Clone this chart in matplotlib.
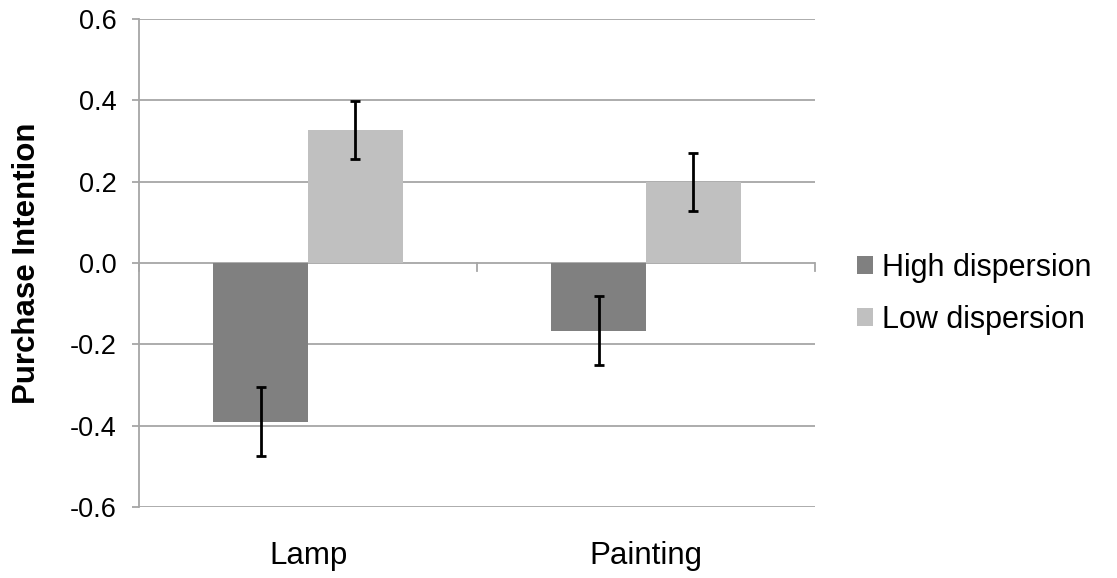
import matplotlib
matplotlib.use("Agg")
import matplotlib.pyplot as plt
import numpy as np

categories = ["Lamp", "Painting"]
series_names = ["High dispersion", "Low dispersion"]
high_values = [-0.39, -0.166]
low_values = [0.327, 0.200]
high_err = [0.084, 0.086]
low_err = [0.071, 0.071]
yticks = [-0.6, -0.4, -0.2, 0.0, 0.2, 0.4, 0.6]

plt.rcParams['font.family'] = ['Liberation Sans', 'DejaVu Sans']

fig = plt.figure(figsize=(11.17, 5.78), dpi=100)
ax = fig.add_axes([139/1117, 1-507/578, (815-139)/1117, (507-19)/578])

x = np.arange(len(categories))
w = 0.281
grid_c = "#A6A6A6"
ax.set_ylim(-0.6, 0.6)
ax.set_xlim(-0.5, 1.5)
for t in yticks:
    ax.axhline(t, color=grid_c, lw=1.3, zorder=0)

ax.bar(x - w/2, high_values, w, color="#808080", label=series_names[0], zorder=2)
ax.bar(x + w/2, low_values, w, color="#C0C0C0", label=series_names[1], zorder=2)
ax.errorbar(x - w/2, high_values, yerr=high_err, fmt="none", ecolor="black",
            elinewidth=2, capsize=3.6, capthick=2, zorder=3)
ax.errorbar(x + w/2, low_values, yerr=low_err, fmt="none", ecolor="black",
            elinewidth=2, capsize=3.6, capthick=2, zorder=3)

# category axis at zero with boundary ticks
for b in [-0.5, 0.5, 1.5]:
    ax.plot([b, b], [0, -0.02], color=grid_c, lw=1.3, clip_on=False, zorder=1)

for s in ["top", "right", "bottom"]:
    ax.spines[s].set_visible(False)
ax.spines["left"].set_color(grid_c)
ax.spines["left"].set_linewidth(1.3)

ax.set_yticks(yticks)
ax.set_yticklabels([f"{t:.1f}" for t in yticks], fontsize=19.5)
ax.tick_params(axis="y", length=5, color=grid_c, width=1.3, pad=11)
ax.set_xticks(x)
ax.set_xticklabels(categories, fontsize=22.5)
ax.tick_params(axis="x", length=0, pad=24.5)
ax.set_ylabel("Purchase Intention", fontsize=22.5, fontweight="bold", labelpad=20)

fig.legend(loc="center left", bbox_to_anchor=(857/1117, 1-294/578), frameon=False,
           fontsize=22, handlelength=0.53, handleheight=0.52, handletextpad=0.3,
           labelspacing=0.72, borderpad=0, borderaxespad=0)

fig.savefig("out.png", dpi=100)
